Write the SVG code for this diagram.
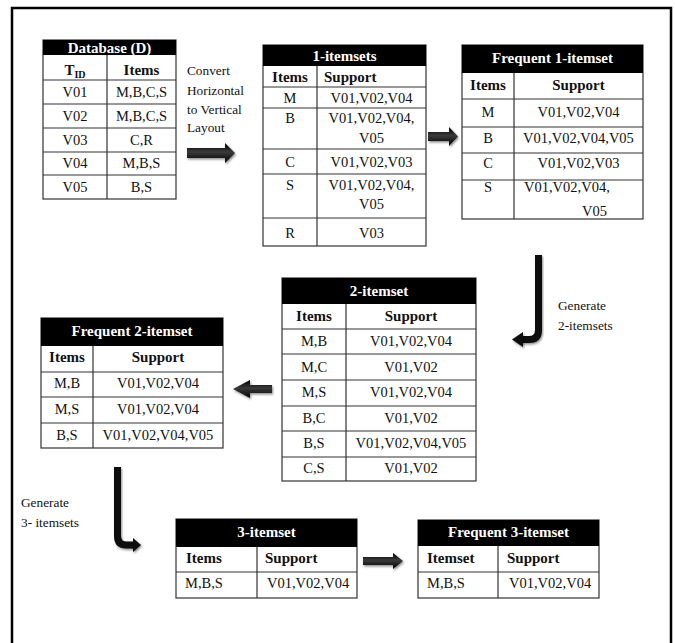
<svg xmlns="http://www.w3.org/2000/svg" width="675" height="643" viewBox="0 0 675 643">
<style>
text{font-family:"Liberation Serif","Times New Roman",serif;fill:#111}
.hd{font-size:15px;font-weight:bold;fill:#fff;text-anchor:middle}
.ch{font-size:15px;font-weight:bold}
.d{font-size:14.5px}
.c{text-anchor:middle}
.lbl{font-size:13.3px}
.cell{fill:#fff;stroke:#333;stroke-width:1.2}
.hbar{fill:#000}
.ln{stroke:#333;stroke-width:1.2}
.arr{fill:url(#ag);filter:url(#sh)}
.larr{fill:none;stroke:#0a0a0a;stroke-width:7;filter:url(#sh)}
.lhd{fill:#0a0a0a;filter:url(#sh)}
</style>
<defs>
<linearGradient id="ag" x1="0" y1="0" x2="0" y2="1">
<stop offset="0" stop-color="#000"/>
<stop offset="0.45" stop-color="#3a3a3a"/>
<stop offset="1" stop-color="#000"/>
</linearGradient>
<filter id="sh" x="-30%" y="-30%" width="160%" height="160%">
<feDropShadow dx="1" dy="1.5" stdDeviation="1.2" flood-color="#000" flood-opacity="0.45"/>
</filter>
</defs>
<rect x="12" y="8" width="659" height="650" fill="none" stroke="#000" stroke-width="2.5"/>

<g id="database">
<rect class="cell" x="43" y="40" width="133" height="159"/>
<rect class="hbar" x="43" y="40" width="133" height="15"/>
<line class="ln" x1="107" y1="55" x2="107" y2="199"/>
<line class="ln" x1="43" y1="80" x2="176" y2="80"/>
<line class="ln" x1="43" y1="104" x2="176" y2="104"/>
<line class="ln" x1="43" y1="128" x2="176" y2="128"/>
<line class="ln" x1="43" y1="152" x2="176" y2="152"/>
<line class="ln" x1="43" y1="175" x2="176" y2="175"/>
<text class="hd" x="109.5" y="52.5">Database (D)</text>
<text class="ch c" x="75" y="75">T<tspan font-size="10" dy="3">ID</tspan></text>
<text class="ch c" x="141.5" y="75">Items</text>
<text class="d c" x="75" y="97">V01</text><text class="d c" x="141.5" y="97">M,B,C,S</text>
<text class="d c" x="75" y="121">V02</text><text class="d c" x="141.5" y="121">M,B,C,S</text>
<text class="d c" x="75" y="145">V03</text><text class="d c" x="141.5" y="145">C,R</text>
<text class="d c" x="75" y="168">V04</text><text class="d c" x="141.5" y="168">M,B,S</text>
<text class="d c" x="75" y="192">V05</text><text class="d c" x="141.5" y="192">B,S</text>
</g>

<g id="itemsets1">
<rect class="cell" x="263" y="45" width="163" height="201"/>
<rect class="hbar" x="263" y="45" width="163" height="21"/>
<line class="ln" x1="317" y1="66" x2="317" y2="246"/>
<line class="ln" x1="263" y1="87" x2="426" y2="87"/>
<line class="ln" x1="263" y1="108" x2="426" y2="108"/>
<line class="ln" x1="263" y1="149" x2="426" y2="149"/>
<line class="ln" x1="263" y1="174" x2="426" y2="174"/>
<line class="ln" x1="263" y1="218" x2="426" y2="218"/>
<text class="hd" x="344.5" y="61">1-itemsets</text>
<text class="ch c" x="290" y="82">Items</text>
<text class="ch" x="324" y="82">Support</text>
<text class="d c" x="290" y="103">M</text><text class="d c" x="371.5" y="103">V01,V02,V04</text>
<text class="d c" x="290" y="123">B</text><text class="d c" x="371.5" y="123">V01,V02,V04,</text>
<text class="d c" x="371.5" y="143">V05</text>
<text class="d c" x="290" y="167">C</text><text class="d c" x="371.5" y="167">V01,V02,V03</text>
<text class="d c" x="290" y="190">S</text><text class="d c" x="371.5" y="190">V01,V02,V04,</text>
<text class="d c" x="371.5" y="209">V05</text>
<text class="d c" x="290" y="238">R</text><text class="d c" x="371.5" y="238">V03</text>
</g>

<g id="frequent1">
<rect class="cell" x="462" y="45" width="181" height="174"/>
<rect class="hbar" x="462" y="45" width="181" height="28"/>
<line class="ln" x1="514" y1="73" x2="514" y2="219"/>
<line class="ln" x1="462" y1="99" x2="643" y2="99"/>
<line class="ln" x1="462" y1="127" x2="643" y2="127"/>
<line class="ln" x1="462" y1="153" x2="643" y2="153"/>
<line class="ln" x1="462" y1="180" x2="643" y2="180"/>
<text class="hd" x="552.5" y="63">Frequent 1-itemset</text>
<text class="ch c" x="488" y="90">Items</text>
<text class="ch c" x="578.5" y="90">Support</text>
<text class="d c" x="488" y="117">M</text><text class="d c" x="578.5" y="117">V01,V02,V04</text>
<text class="d c" x="488" y="143">B</text><text class="d c" x="578.5" y="143">V01,V02,V04,V05</text>
<text class="d c" x="488" y="168">C</text><text class="d c" x="578.5" y="168">V01,V02,V03</text>
<text class="d c" x="488" y="192">S</text><text class="d" x="524" y="192">V01,V02,V04,</text>
<text class="d c" x="594.5" y="216">V05</text>
</g>

<g id="itemset2">
<rect class="cell" x="282" y="278" width="194" height="203"/>
<rect class="hbar" x="282" y="278" width="194" height="26"/>
<line class="ln" x1="346" y1="304" x2="346" y2="481"/>
<line class="ln" x1="282" y1="329" x2="476" y2="329"/>
<line class="ln" x1="282" y1="354" x2="476" y2="354"/>
<line class="ln" x1="282" y1="380" x2="476" y2="380"/>
<line class="ln" x1="282" y1="406" x2="476" y2="406"/>
<line class="ln" x1="282" y1="431" x2="476" y2="431"/>
<line class="ln" x1="282" y1="457" x2="476" y2="457"/>
<text class="hd" x="379" y="296">2-itemset</text>
<text class="ch c" x="314" y="321">Items</text>
<text class="ch c" x="411" y="321">Support</text>
<text class="d c" x="314" y="346">M,B</text><text class="d c" x="411" y="346">V01,V02,V04</text>
<text class="d c" x="314" y="372">M,C</text><text class="d c" x="411" y="372">V01,V02</text>
<text class="d c" x="314" y="397">M,S</text><text class="d c" x="411" y="397">V01,V02,V04</text>
<text class="d c" x="314" y="423">B,C</text><text class="d c" x="411" y="423">V01,V02</text>
<text class="d c" x="314" y="448">B,S</text><text class="d c" x="411" y="448">V01,V02,V04,V05</text>
<text class="d c" x="314" y="473">C,S</text><text class="d c" x="411" y="473">V01,V02</text>
</g>

<g id="frequent2">
<rect class="cell" x="41" y="318" width="182" height="130"/>
<rect class="hbar" x="41" y="318" width="182" height="28"/>
<line class="ln" x1="93" y1="346" x2="93" y2="448"/>
<line class="ln" x1="41" y1="372" x2="223" y2="372"/>
<line class="ln" x1="41" y1="397" x2="223" y2="397"/>
<line class="ln" x1="41" y1="423" x2="223" y2="423"/>
<text class="hd" x="132" y="336">Frequent 2-itemset</text>
<text class="ch c" x="67" y="362">Items</text>
<text class="ch c" x="158" y="362">Support</text>
<text class="d c" x="67" y="388">M,B</text><text class="d c" x="158" y="388">V01,V02,V04</text>
<text class="d c" x="67" y="414">M,S</text><text class="d c" x="158" y="414">V01,V02,V04</text>
<text class="d c" x="67" y="440">B,S</text><text class="d c" x="158" y="440">V01,V02,V04,V05</text>
</g>

<g id="itemset3">
<rect class="cell" x="176" y="519" width="181" height="79"/>
<rect class="hbar" x="176" y="519" width="181" height="28"/>
<line class="ln" x1="257" y1="547" x2="257" y2="598"/>
<line class="ln" x1="176" y1="572" x2="357" y2="572"/>
<text class="hd" x="266.5" y="537">3-itemset</text>
<text class="ch" x="186" y="563">Items</text>
<text class="ch" x="265" y="563">Support</text>
<text class="d" x="185" y="588">M,B,S</text><text class="d" x="267" y="588">V01,V02,V04</text>
</g>

<g id="frequent3">
<rect class="cell" x="418" y="520" width="181" height="78"/>
<rect class="hbar" x="418" y="520" width="181" height="26"/>
<line class="ln" x1="498" y1="546" x2="498" y2="598"/>
<line class="ln" x1="418" y1="572" x2="599" y2="572"/>
<text class="hd" x="508.5" y="537">Frequent 3-itemset</text>
<text class="ch" x="427" y="563">Itemset</text>
<text class="ch" x="507" y="563">Support</text>
<text class="d" x="427" y="588">M,B,S</text><text class="d" x="509" y="588">V01,V02,V04</text>
</g>

<g id="connectors">
<path class="arr" d="M187,148 H225 V143 L235,153 L225,163 V158 H187 Z"/>
<path class="arr" d="M428,132 H449 V127 L458,136.5 L449,146 V141 H428 Z"/>
<path class="arr" d="M272,385 H250 V380 L233,389 L250,398 V393 H272 Z"/>
<path class="arr" d="M363,557 H393 V553 L403,561 L393,569 V565 H363 Z"/>
<path class="larr" d="M538.5,255 V330 Q538.5,339.5 529,339.5 H522"/>
<polygon class="lhd" points="523,332 512,339.5 523,347"/>
<path class="larr" d="M117.5,467 V536 Q117.5,545 126.5,545 H134"/>
<polygon class="lhd" points="133,538 141,545 133,552"/>
</g>

<g id="labels">
<text class="lbl" x="187" y="75">Convert</text>
<text class="lbl" x="187" y="95">Horizontal</text>
<text class="lbl" x="187" y="114">to Vertical</text>
<text class="lbl" x="187" y="132">Layout</text>
<text class="lbl" x="558" y="310">Generate</text>
<text class="lbl" x="558" y="330">2-itemsets</text>
<text class="lbl" x="21" y="507">Generate</text>
<text class="lbl" x="21" y="527">3- itemsets</text>
</g>
</svg>
